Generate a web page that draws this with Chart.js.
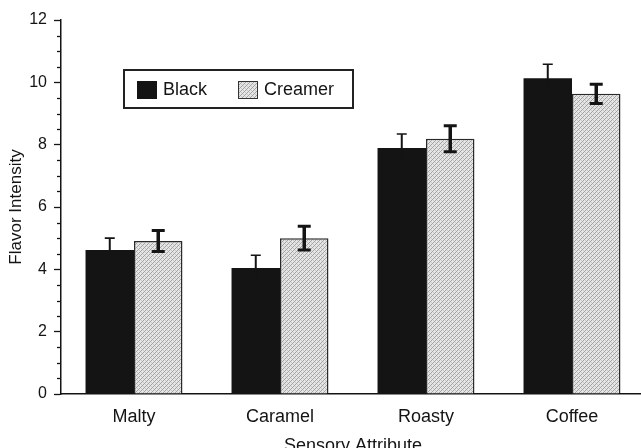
<!DOCTYPE html>
<html>
<head>
<meta charset="utf-8">
<title>Flavor Intensity by Sensory Attribute</title>
<script src="https://cdn.jsdelivr.net/npm/chart.js@4.4.1/dist/chart.umd.min.js"></script>
<style>
  html, body { margin: 0; padding: 0; background: #fff; overflow: hidden; }
  canvas { display: block; }
</style>
</head>
<body>
<canvas id="chart" width="646" height="448"></canvas>
<script>
// Sensory attributes and mean flavor intensity (with error bar half-widths)
const attributes = ['Malty', 'Caramel', 'Roasty', 'Coffee'];
const blackMeans = [4.62, 4.04, 7.89, 10.13];
const blackErrors = [0.38, 0.41, 0.45, 0.45];
const creamerMeans = [4.91, 5.00, 8.19, 9.63];
const creamerErrors = [0.34, 0.38, 0.42, 0.31];
const yTickValues = [0, 2, 4, 6, 8, 10, 12];

const FONT = "'Liberation Sans', Arial, Helvetica, sans-serif";
const INK = '#141414';

// Fine stippled grey texture for the "Creamer" bars
function makeStipple() {
  const c = document.createElement('canvas');
  c.width = 4; c.height = 4;
  const g = c.getContext('2d');
  g.fillStyle = '#e6e6e6';
  g.fillRect(0, 0, 4, 4);
  g.fillStyle = '#a2a2a2';
  for (let y = 0; y < 4; y++) {
    for (let x = 0; x < 4; x++) {
      if ((x + y) % 4 === 3) g.fillRect(x, y, 1, 1);
    }
  }
  g.fillStyle = '#c8c8c8';
  g.fillRect(1, 0, 1, 1);
  g.fillRect(3, 2, 1, 1);
  return g.createPattern(c, 'repeat');
}
const stipple = makeStipple();

// Error bars drawn on top of each bar, using the chart's own scales
const errorBars = {
  id: 'errorBars',
  afterDatasetsDraw(chart) {
    const ctx = chart.ctx;
    const y = chart.scales.y;
    chart.data.datasets.forEach((ds, di) => {
      const meta = chart.getDatasetMeta(di);
      const st = ds.errorStyle;
      meta.data.forEach((bar, i) => {
        const v = ds.data[i], e = ds.errors[i];
        const top = y.getPixelForValue(v + e);
        const bot = y.getPixelForValue(v - e);
        ctx.save();
        ctx.strokeStyle = INK;
        ctx.lineWidth = st.stem;
        ctx.beginPath();
        ctx.moveTo(bar.x, top);
        ctx.lineTo(bar.x, bot);
        ctx.stroke();
        ctx.lineWidth = st.capThick;
        ctx.beginPath();
        ctx.moveTo(bar.x - st.cap / 2, top);
        ctx.lineTo(bar.x + st.cap / 2, top);
        ctx.moveTo(bar.x - st.cap / 2, bot);
        ctx.lineTo(bar.x + st.cap / 2, bot);
        ctx.stroke();
        ctx.restore();
      });
    });
  }
};

// Short minor ticks every 0.5 on the value axis
const minorTicks = {
  id: 'minorTicks',
  afterDraw(chart) {
    const ctx = chart.ctx;
    const y = chart.scales.y;
    const x0 = chart.chartArea.left;
    ctx.save();
    ctx.strokeStyle = INK;
    ctx.lineWidth = 1.3;
    for (let v = y.min; v <= y.max; v += 0.5) {
      if (v % 2 === 0) continue;
      const py = Math.round(y.getPixelForValue(v)) + 0.5;
      ctx.beginPath();
      ctx.moveTo(x0 - 4, py);
      ctx.lineTo(x0, py);
      ctx.stroke();
    }
    ctx.restore();
  }
};

// Boxed legend placed inside the plot area
const boxedLegend = {
  id: 'boxedLegend',
  afterDraw(chart) {
    const ctx = chart.ctx;
    const a = chart.chartArea;
    const bx = a.left + 63, by = a.top + 50, bw = 229, bh = 38;
    ctx.save();
    ctx.fillStyle = '#fff';
    ctx.fillRect(bx, by, bw, bh);
    ctx.strokeStyle = '#222';
    ctx.lineWidth = 2;
    ctx.strokeRect(bx, by, bw, bh);
    const entries = [
      { ds: chart.data.datasets[0], sx: bx + 13 },
      { ds: chart.data.datasets[1], sx: bx + 114 }
    ];
    ctx.font = '18px ' + FONT;
    ctx.textBaseline = 'middle';
    entries.forEach(({ ds, sx }) => {
      const sy = by + 11;
      ctx.fillStyle = ds.backgroundColor;
      ctx.fillRect(sx, sy, 20, 18);
      if (ds.borderWidth) {
        ctx.strokeStyle = '#333';
        ctx.lineWidth = 1;
        ctx.strokeRect(sx + 0.5, sy + 0.5, 19, 17);
      }
      ctx.fillStyle = INK;
      ctx.fillText(ds.label, sx + 26, by + bh / 2 + 1);
    });
    ctx.restore();
  }
};

new Chart(document.getElementById('chart'), {
  type: 'bar',
  data: {
    labels: attributes,
    datasets: [
      {
        label: 'Black',
        data: blackMeans,
        errors: blackErrors,
        errorStyle: { stem: 2, cap: 10, capThick: 1.6 },
        backgroundColor: INK,
        borderWidth: 0,
        categoryPercentage: 0.664,
        barPercentage: 1.0
      },
      {
        label: 'Creamer',
        data: creamerMeans,
        errors: creamerErrors,
        errorStyle: { stem: 3.5, cap: 13, capThick: 3 },
        backgroundColor: stipple,
        borderColor: '#2a2a2a',
        borderWidth: 1.5,
        borderSkipped: 'bottom',
        categoryPercentage: 0.664,
        barPercentage: 1.0
      }
    ]
  },
  options: {
    responsive: false,
    animation: false,
    events: [],
    layout: { padding: { top: 20, right: 1, left: 0, bottom: 0 } },
    plugins: {
      legend: { display: false },
      tooltip: { enabled: false }
    },
    scales: {
      x: {
        grid: { display: false },
        border: { display: true, color: INK, width: 1.5 },
        ticks: { color: INK, font: { family: FONT, size: 18 }, padding: 4 },
        title: {
          display: true,
          text: 'Sensory Attribute',
          color: INK,
          font: { family: FONT, size: 18 },
          padding: { top: 0, bottom: -9 }
        },
        afterFit(scale) { scale.height = 54; }
      },
      y: {
        min: 0,
        max: 12,
        afterBuildTicks(scale) {
          scale.ticks = yTickValues.map(v => ({ value: v }));
        },
        grid: {
          drawOnChartArea: false,
          drawTicks: true,
          tickLength: 7,
          tickColor: INK,
          tickWidth: 1.3
        },
        border: { display: true, color: INK, width: 1.5 },
        ticks: { color: INK, font: { family: FONT, size: 16 }, padding: 7 },
        title: {
          display: true,
          text: 'Flavor Intensity',
          color: INK,
          font: { family: FONT, size: 17 },
          padding: { top: 6, bottom: 0 }
        },
        afterFit(scale) { scale.width = 61; }
      }
    }
  },
  plugins: [errorBars, minorTicks, boxedLegend]
});
</script>
</body>
</html>
